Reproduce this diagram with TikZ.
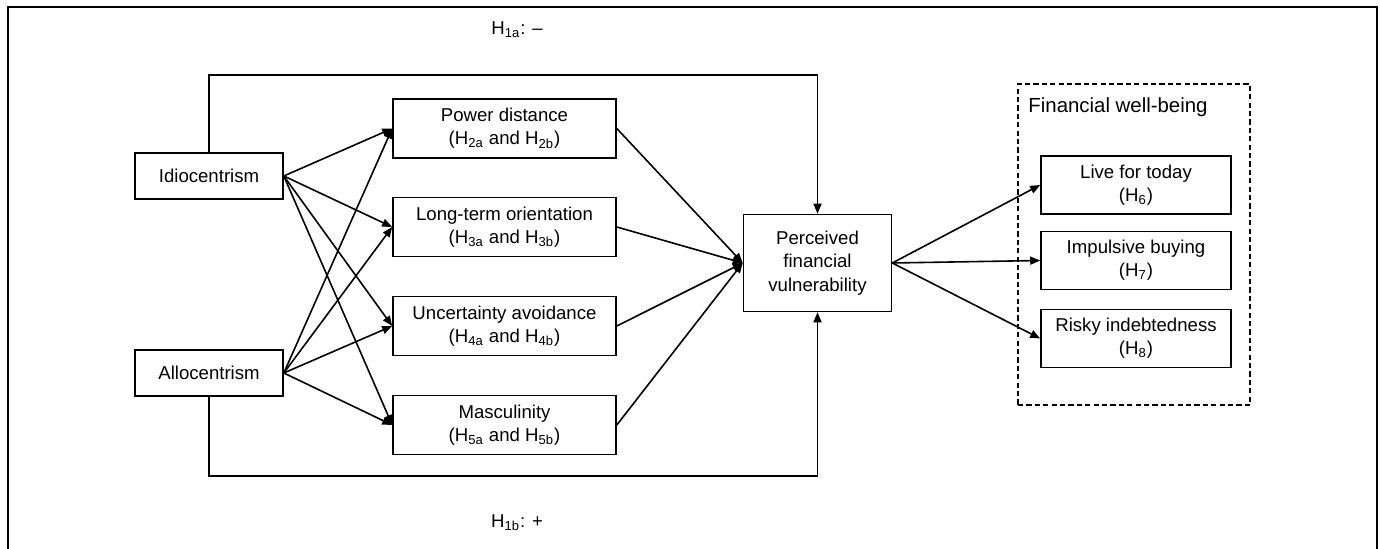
\documentclass[tikz,border=0pt]{standalone}
\usepackage{fontspec}
\setmainfont{Liberation Sans}
\usetikzlibrary{arrows.meta}
\begin{document}
\begin{tikzpicture}[x=0.5pt,y=-0.5pt,
  txt/.style={font=\fontsize{9.3}{11.6}\selectfont, align=center, inner sep=0pt},
  box/.style={txt, draw, line width=0.8pt},
  inbox/.style={box, minimum width=74pt, minimum height=23pt},
  midbox/.style={box, minimum width=111.5pt, minimum height=29.5pt},
  pbox/.style={box, minimum width=74pt, minimum height=48.5pt},
  outbox/.style={box, minimum width=95pt, minimum height=29pt},
  dashbox/.style={draw, line width=0.7pt, dash pattern=on 2.6pt off 1.6pt, minimum width=116pt, minimum height=160.5pt, inner sep=0pt},
  arr/.style={line width=0.8pt, -{Triangle[length=5pt,width=4pt]}},
  frame/.style={line width=1pt}
]
\useasboundingbox (0,0) rectangle (1380,549);
\draw[frame] (8,549) -- (8,7) -- (1377,7) -- (1377,549);

\node[inbox] (I) at (209,176) {Idiocentrism};
\node[inbox] (A) at (209,373) {Allocentrism};

\node[midbox] (PD) at (504.5,128.5) {Power distance\\(H\textsubscript{2a} and H\textsubscript{2b})};
\node[midbox] (LT) at (504.5,227) {Long-term orientation\\(H\textsubscript{3a} and H\textsubscript{3b})};
\node[midbox] (UA) at (504.5,326) {Uncertainty avoidance\\(H\textsubscript{4a} and H\textsubscript{4b})};
\node[midbox] (MA) at (504.5,425) {Masculinity\\(H\textsubscript{5a} and H\textsubscript{5b})};

\node[pbox] (P) at (817.5,263) {Perceived\\financial\\vulnerability};

\node[dashbox] (FW) at (1134,244.5) {};
\node[txt, anchor=west, font=\fontsize{10.2}{12}\selectfont] (FWL) at (1028,107) {Financial well-being};

\node[outbox] (L) at (1136,185) {Live for today\\(H\textsubscript{6})};
\node[outbox] (IB) at (1136,260.5) {Impulsive buying\\(H\textsubscript{7})};
\node[outbox] (R) at (1136,338.5) {Risky indebtedness\\(H\textsubscript{8})};

\node[txt] (H1a) at (517,30) {H\textsubscript{1a}: –};
\node[txt] (H1b) at (517,523) {H\textsubscript{1b}: +};

\coordinate (tl) at (208,75);
\coordinate (bl) at (208,476);
\draw[arr] (I.north) -- (I.north |- tl) -| (P.north);
\draw[arr] (A.south) -- (A.south |- bl) -| (P.south);

\foreach \m in {PD,LT,UA,MA} {
  \draw[arr] (I.east) -- (\m.west);
  \draw[arr] (A.east) -- (\m.west);
  \draw[arr] (\m.east) -- (P.west);
}
\foreach \o in {L,IB,R} {
  \draw[arr] (P.east) -- (\o.west);
}
\end{tikzpicture}
\end{document}
